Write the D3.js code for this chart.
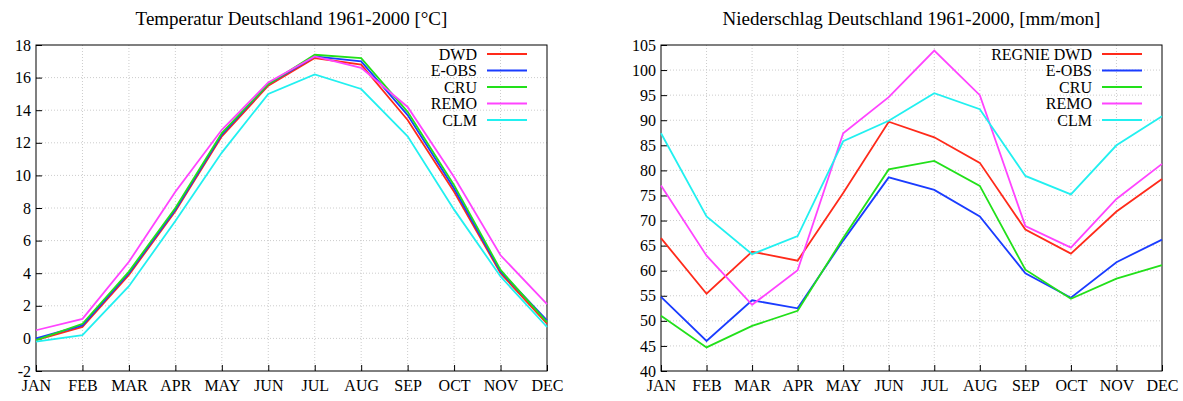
<!DOCTYPE html>
<html><head><meta charset="utf-8">
<script src="https://cdn.jsdelivr.net/npm/d3@7"></script>
<style>body{margin:0;background:#fff}text{font-family:"Liberation Serif",serif}</style>
</head><body><svg id="c" width="1183" height="401"></svg>
<script>
var months = ["JAN","FEB","MAR","APR","MAY","JUN","JUL","AUG","SEP","OCT","NOV","DEC"];
var colors = ["#ff2a1a","#1a3cff","#22e01a","#ff44ff","#22f0f0"];

var tempNames = ["DWD","E-OBS","CRU","REMO","CLM"];
var tDWD  = [-0.1,0.7,3.9,7.8,12.4,15.5,17.2,16.8,13.4,9.0,4.0,0.9];
var tEOBS = [0.0,0.8,4.0,7.9,12.5,15.6,17.3,17.0,13.7,9.2,4.1,1.1];
var tCRU  = [-0.1,0.9,4.1,8.0,12.6,15.6,17.4,17.2,13.9,9.4,4.2,1.0];
var tREMO = [0.5,1.2,4.7,9.0,12.8,15.7,17.3,16.6,14.2,9.9,5.1,2.1];
var tCLM  = [-0.2,0.2,3.2,7.2,11.4,15.0,16.2,15.3,12.4,7.9,3.8,0.7];

var precNames = ["REGNIE DWD","E-OBS","CRU","REMO","CLM"];
var pDWD  = [66.5,55.4,63.8,62.0,75.5,89.7,86.6,81.5,68.2,63.4,71.8,78.3];
var pEOBS = [54.8,46.0,54.1,52.5,66.0,78.6,76.1,70.8,59.5,54.6,61.7,66.2];
var pCRU  = [51.0,44.7,49.0,52.0,66.5,80.2,81.9,76.9,60.2,54.4,58.4,61.1];
var pREMO = [77.0,63.0,53.2,60.1,87.4,94.6,103.9,95.0,68.9,64.6,74.3,81.3];
var pCLM  = [87.4,70.8,63.3,66.9,85.8,89.9,95.4,92.2,78.9,75.2,85.0,90.8];

var svg = d3.select("#c");

function panel(o) {
  var x = d3.scalePoint().domain(months).range([o.x0, o.x1]);
  var y = d3.scaleLinear().domain(o.dom).range([371, 45]);
  var g = svg.append("g");
  // grid
  g.selectAll(".gx").data(months.slice(1, -1)).enter().append("line")
    .attr("x1", d => x(d)).attr("x2", d => x(d)).attr("y1", 45).attr("y2", 371)
    .attr("stroke", "#ccc").attr("stroke-dasharray", "1,2");
  g.selectAll(".gy").data(o.ticks.slice(1, -1)).enter().append("line")
    .attr("x1", o.x0).attr("x2", o.x1).attr("y1", d => y(d)).attr("y2", d => y(d))
    .attr("stroke", "#ccc").attr("stroke-dasharray", "1,2");
  var ax = g.append("g").attr("transform", "translate(0,371)")
    .call(d3.axisBottom(x).tickSize(-6).tickPadding(9));
  var ay = g.append("g").attr("transform", "translate(" + o.x0 + ",0)")
    .call(d3.axisLeft(y).tickValues(o.ticks).tickFormat(d => String(d)).tickSize(-6).tickPadding(5));
  [ax, ay].forEach(a => {
    a.select(".domain").remove();
    a.selectAll("text").attr("font-size", 16).attr("fill", "#000").style("font-family", "Liberation Serif");
    a.selectAll("line").attr("stroke", "#000");
  });
  g.append("rect").attr("x", o.x0).attr("y", 45).attr("width", o.x1 - o.x0).attr("height", 326)
    .attr("fill", "none").attr("stroke", "#000");
  var line = d3.line().x((d, i) => x(months[i])).y(d => y(d));
  o.series.forEach((s, i) => {
    g.append("path").attr("d", line(s)).attr("fill", "none")
      .attr("stroke", colors[i]).attr("stroke-width", 1.8);
  });
  o.names.forEach((n, i) => {
    var ly = 54 + i * 16.5;
    g.append("text").attr("x", o.lx).attr("y", ly + 5.5).attr("text-anchor", "end")
      .attr("font-size", 16).text(n);
    g.append("line").attr("x1", o.lx + 10).attr("x2", o.lx + 50).attr("y1", ly).attr("y2", ly)
      .attr("stroke", colors[i]).attr("stroke-width", 1.8);
  });
  svg.append("text").attr("x", (o.x0 + o.x1) / 2).attr("y", 25).attr("text-anchor", "middle")
    .attr("font-size", 19).text(o.title);
}

panel({x0: 36, x1: 547, dom: [-2, 18], ticks: d3.range(-2, 19, 2),
  series: [tDWD, tEOBS, tCRU, tREMO, tCLM], names: tempNames, lx: 477,
  title: "Temperatur Deutschland 1961-2000 [°C]"});
panel({x0: 661, x1: 1162, dom: [40, 105], ticks: d3.range(40, 106, 5),
  series: [pDWD, pEOBS, pCRU, pREMO, pCLM], names: precNames, lx: 1092,
  title: "Niederschlag Deutschland 1961-2000, [mm/mon]"});
</script></body></html>
